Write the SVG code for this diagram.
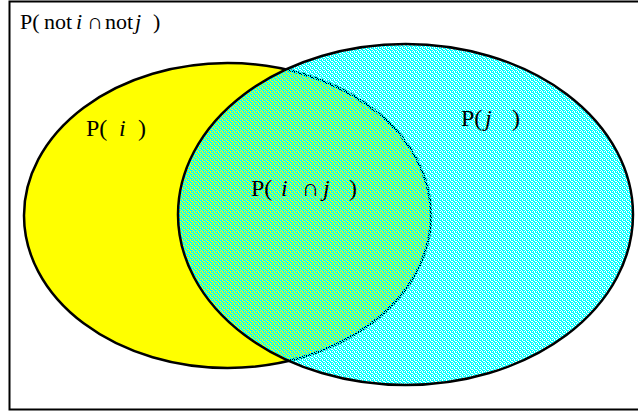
<svg xmlns="http://www.w3.org/2000/svg" width="638" height="415" viewBox="0 0 638 415">
<style>
text{font-family:"Liberation Serif","Times New Roman",serif;font-size:24px;fill:#000}
.top{font-size:22px}
.it{font-style:italic}
.ol{stroke:#000;stroke-width:2.5}
</style>
<defs>
<pattern id="cy" width="4" height="4" patternUnits="userSpaceOnUse">
<rect x="0" y="0" width="2" height="1" fill="#00FFFF" shape-rendering="crispEdges"/>
<rect x="3" y="0" width="1" height="1" fill="#00FFFF" shape-rendering="crispEdges"/>
<rect x="1" y="1" width="2" height="1" fill="#00FFFF" shape-rendering="crispEdges"/>
<rect x="0" y="2" width="1" height="1" fill="#00FFFF" shape-rendering="crispEdges"/>
<rect x="2" y="2" width="2" height="1" fill="#00FFFF" shape-rendering="crispEdges"/>
<rect x="1" y="3" width="1" height="1" fill="#00FFFF" shape-rendering="crispEdges"/>
<rect x="3" y="3" width="1" height="1" fill="#00FFFF" shape-rendering="crispEdges"/>
</pattern>
</defs>
<rect x="0" y="0" width="638" height="415" fill="#fff"/>
<g id="universe">
<rect x="9.5" y="1.5" width="640" height="408" fill="#fff" stroke="#000" stroke-width="2"/>
<text class="top" y="29"><tspan x="20">P(</tspan><tspan x="44">not</tspan><tspan x="76" class="it">i</tspan><tspan x="87">∩</tspan><tspan x="105">not</tspan><tspan x="135" class="it">j</tspan><tspan x="153">)</tspan></text>
</g>
<g id="set-i">
<ellipse cx="227.5" cy="215.5" rx="203.5" ry="152.5" fill="#FFFF00" class="ol"/>
</g>
<g id="set-j">
<ellipse cx="405.5" cy="214.5" rx="227.5" ry="170.5" fill="url(#cy)" class="ol"/>
</g>
<g id="labels">
<text y="136"><tspan x="86">P(</tspan><tspan x="119" class="it">i</tspan><tspan x="138">)</tspan></text>
<text y="196"><tspan x="251">P(</tspan><tspan x="281" class="it">i</tspan><tspan x="302">∩</tspan><tspan x="323" class="it">j</tspan><tspan x="349">)</tspan></text>
<text y="126"><tspan x="461">P(</tspan><tspan x="485" class="it">j</tspan><tspan x="512">)</tspan></text>
</g>
</svg>
